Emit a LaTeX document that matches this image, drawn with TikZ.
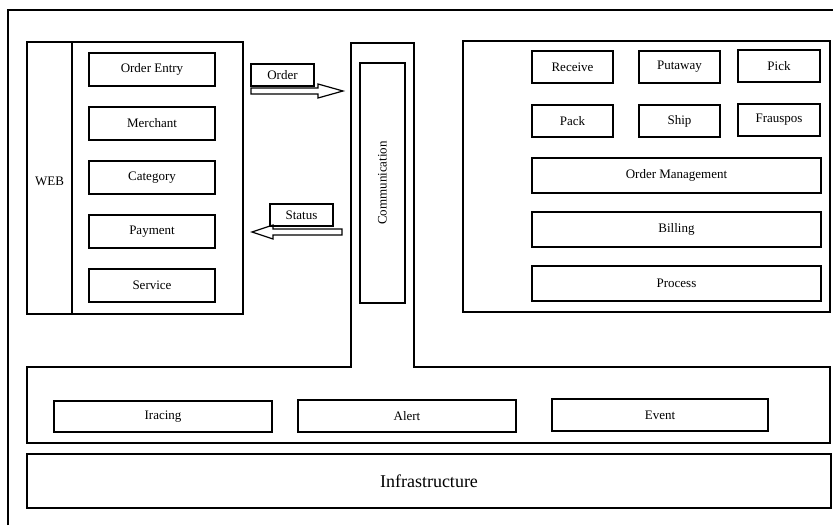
\documentclass[tikz,border=0pt]{standalone}
\usepackage{fontspec}
\setmainfont{Liberation Serif}
\newcommand\bx[6]{\node[box, minimum width={#4pt-#2pt}, minimum height={#5pt-#3pt}] (#1) at ({(#2+#4)/2},{(#3+#5)/2}) {#6};}
\begin{document}
\begin{tikzpicture}[x=1pt,y=-1pt, line width=1.2pt,
  box/.style={draw, rectangle, inner sep=0pt, font=\fontsize{13}{15}\selectfont},
  lbl/.style={font=\fontsize{13}{15}\selectfont}]
\useasboundingbox (0,0) rectangle (833,525);
% outer frame
\draw (8,525) -- (8,10) -- (833,10);
% WEB block
\bx{webframe}{27}{42}{243}{314}{}
\draw (72,42) -- (72,314);
\node[lbl] (web) at (49.5,181) {WEB};
\bx{oentry}{89}{53}{215}{86}{Order Entry}
\bx{merchant}{89}{107}{215}{140}{Merchant}
\bx{category}{89}{161}{215}{194}{Category}
\bx{payment}{89}{215}{215}{248}{Payment}
\bx{service}{89}{269}{215}{302}{Service}
% communication column + lower section (T shape)
\draw (27,367) -- (351,367) -- (351,43) -- (414,43) -- (414,367) -- (830,367) -- (830,443) -- (27,443) -- cycle;
\node[box, rotate=90, minimum width=240pt, minimum height=45pt] (comm) at (382.5,183) {Communication};
% order / status
\bx{order}{251}{64}{314}{86}{Order}
\draw (251,88) -- (318,88) -- (318,84) -- (343,91) -- (318,98) -- (318,94) -- (251,94) -- cycle;
\bx{status}{270}{204}{333}{226}{Status}
\draw (342,229) -- (273,229) -- (273,225) -- (252,232) -- (273,239) -- (273,235) -- (342,235) -- cycle;
% right block
\bx{rframe}{463}{41}{830}{312}{}
\bx{receive}{532}{51}{613}{83}{Receive}
\bx{putaway}{639}{51}{720}{83}{Putaway}
\bx{pick}{738}{50}{820}{82}{Pick}
\bx{pack}{532}{105}{613}{137}{Pack}
\bx{ship}{639}{105}{720}{137}{Ship}
\bx{frauspos}{738}{104}{820}{136}{Frauspos}
\bx{ordermgmt}{532}{158}{821}{193}{Order Management}
\bx{billing}{532}{212}{821}{247}{Billing}
\bx{process}{532}{266}{821}{301}{Process}
% lower section
\bx{tracing}{54}{401}{272}{432}{Iracing}
\bx{alert}{298}{400}{516}{432}{Alert}
\bx{event}{552}{399}{768}{431}{Event}
% infrastructure
\node[draw, rectangle, inner sep=0pt, minimum width=804pt, minimum height=54pt, font=\fontsize{18}{21}\selectfont] (infra) at (429,481) {Infrastructure};
\end{tikzpicture}
\end{document}
